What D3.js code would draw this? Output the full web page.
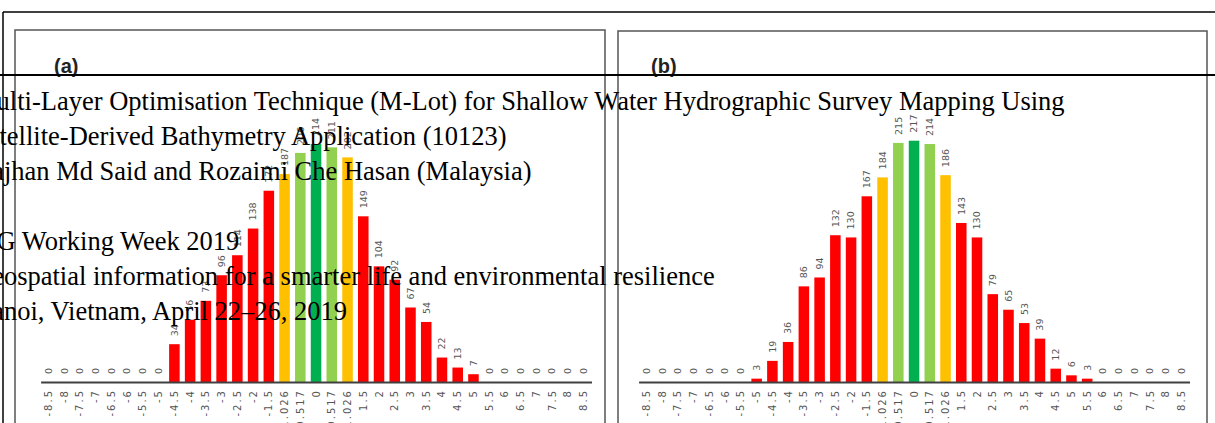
<!DOCTYPE html>
<html lang="en">
<head>
<meta charset="UTF-8">
<title>M-Lot histograms</title>
<script src="https://cdn.jsdelivr.net/npm/d3@7"></script>
<style>
  body { margin: 0; background: #fff; }
  svg { display: block; }
</style>
</head>
<body>
<svg id="page" width="1215" height="423"></svg>
<script>
// bins of the error histogram (m)
var categories = ["-8.5","-8","-7.5","-7","-6.5","-6","-5.5","-5","-4.5","-4","-3.5","-3","-2.5","-2","-1.5","-1.026","-0.517","0","0.517","1.026","1.5","2","2.5","3","3.5","4","4.5","5","5.5","6","6.5","7","7.5","8","8.5"];

// counts, panel (a)
var countsA = [0,0,0,0,0,0,0,0,34,56,73,96,114,138,172,187,206,214,211,202,149,104,92,67,54,22,13,7,0,0,0,0,0,0,0];
// counts, panel (b)
var countsB = [0,0,0,0,0,0,0,3,19,36,86,94,132,130,167,184,215,217,214,186,143,130,79,65,53,39,12,6,3,0,0,0,0,0,0];

var panelLabels = ["(a)", "(b)"];

// page text lying over the figure
var pageLines = [
  "Multi-Layer Optimisation Technique (M-Lot) for Shallow Water Hydrographic Survey Mapping Using",
  "Satellite-Derived Bathymetry Application (10123)",
  "Najhan Md Said and Rozaimi Che Hasan (Malaysia)",
  "",
  "FIG Working Week 2019",
  "Geospatial information for a smarter life and environmental resilience",
  "Hanoi, Vietnam, April 22\u201326, 2019"
];

function barColor(c) {
  if (c == "0") return "#00b050";
  if (c == "-0.517" || c == "0.517") return "#92d050";
  if (c == "-1.026" || c == "1.026") return "#ffc000";
  return "#ff0000";
}

var svg = d3.select("#page");
var baseY = 382;

var y = d3.scaleLinear().domain([0, 250]).range([baseY, baseY - 278]);

// page frame
svg.append("line").attr("x1", 3).attr("x2", 1215).attr("y1", 12).attr("y2", 12)
   .attr("stroke", "#000").attr("stroke-width", 1.5);
svg.append("line").attr("x1", 3).attr("x2", 3).attr("y1", 12).attr("y2", 423)
   .attr("stroke", "#000").attr("stroke-width", 1.5);

var panels = [
  { box: [15, 30, 605], range: [40.6, 591.5], data: countsA, label: panelLabels[0], lx: 54 },
  { box: [618, 31, 1207], range: [638.6, 1189.5], data: countsB, label: panelLabels[1], lx: 651 }
];

panels.forEach(function(p) {
  var g = svg.append("g");

  // panel border (runs off the bottom)
  g.append("path")
   .attr("d", "M" + p.box[0] + ",430V" + p.box[1] + "H" + p.box[2] + "V430")
   .attr("fill", "none").attr("stroke", "#555").attr("stroke-width", 1.5);

  g.append("text")
   .attr("x", p.lx).attr("y", 73)
   .attr("font-family", "Liberation Sans, Arial, sans-serif")
   .attr("font-weight", "bold").attr("font-size", "20px")
   .attr("fill", "#222")
   .text(p.label);

  var x = d3.scaleBand().domain(categories).range(p.range)
            .paddingInner(0.33).paddingOuter(0.165);

  var rows = categories.map(function(c, i) { return { cat: c, val: p.data[i] }; });

  g.selectAll(".bar")
   .data(rows)
   .enter().append("rect")
   .attr("class", "bar")
   .attr("x", function(d) { return x(d.cat); })
   .attr("y", function(d) { return y(d.val); })
   .attr("width", x.bandwidth())
   .attr("height", function(d) { return baseY - y(d.val); })
   .attr("fill", function(d) { return barColor(d.cat); });

  g.selectAll(".val")
   .data(rows)
   .enter().append("text")
   .attr("class", "val")
   .attr("transform", function(d) {
     return "translate(" + (x(d.cat) + x.bandwidth() / 2) + "," + (y(d.val) - 8) + ") rotate(-90)";
   })
   .attr("dy", "0.35em")
   .attr("font-family", "DejaVu Sans, sans-serif")
   .attr("font-size", "9.5px")
   .attr("fill", "#555")
   .text(function(d) { return d.val; });

  var axis = g.append("g")
   .attr("transform", "translate(0," + baseY + ")")
   .call(d3.axisBottom(x).tickSize(0));

  axis.select(".domain").attr("stroke", "#404040").attr("stroke-width", 2);
  axis.selectAll("text")
   .attr("transform", "rotate(-90)")
   .attr("x", -7).attr("y", 0).attr("dy", "0.35em")
   .attr("text-anchor", "end")
   .attr("font-family", "DejaVu Sans, sans-serif")
   .attr("font-size", "10px")
   .attr("letter-spacing", "2px")
   .attr("fill", "#555");
});

// running header rule
svg.append("line").attr("x1", 0).attr("x2", 1215).attr("y1", 75).attr("y2", 75)
   .attr("stroke", "#000").attr("stroke-width", 2);

// page text
svg.selectAll(".pline")
   .data(pageLines)
   .enter().append("text")
   .attr("class", "pline")
   .attr("x", -27)
   .attr("y", function(d, i) { return 110 + i * 35; })
   .attr("font-family", "Liberation Serif, Times New Roman, serif")
   .attr("font-size", "26.5px")
   .attr("fill", "#000")
   .text(function(d) { return d; });
</script>
</body>
</html>
